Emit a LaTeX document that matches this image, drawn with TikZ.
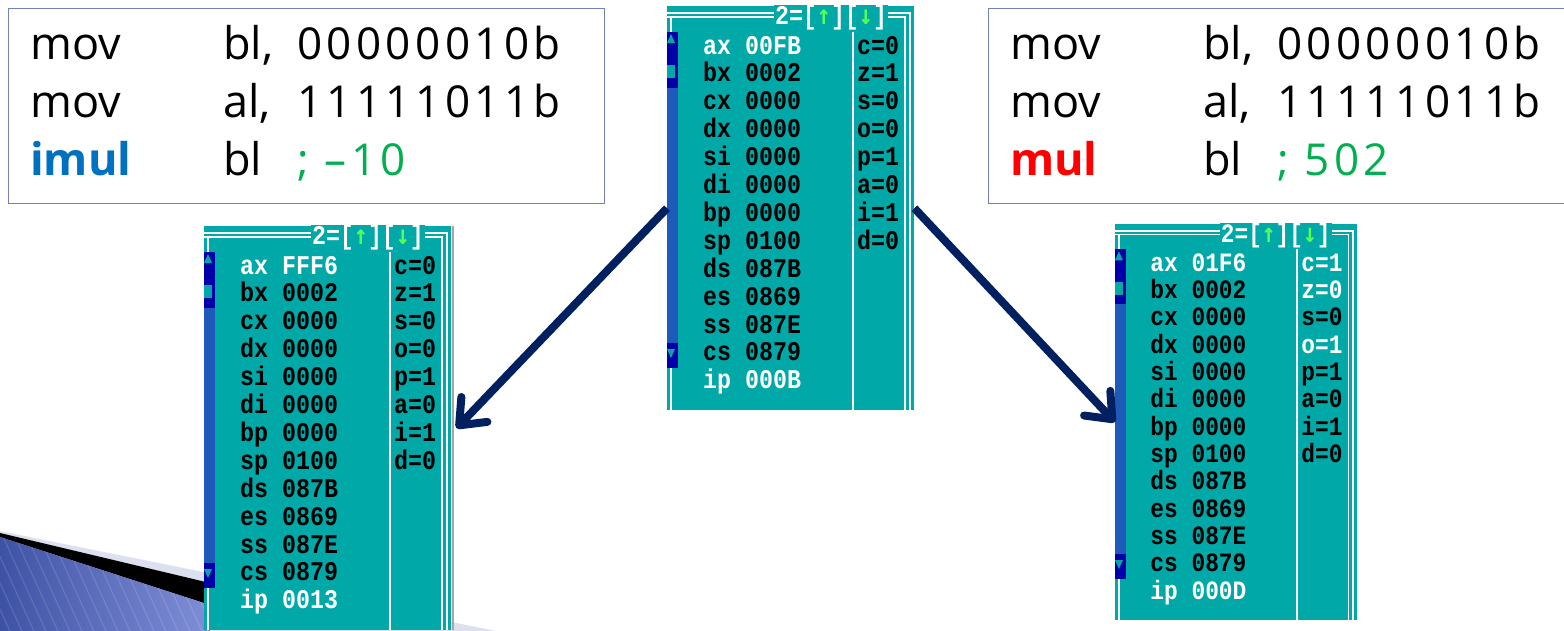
\documentclass[tikz,border=0pt]{standalone}
\usepackage{graphicx}
\usepackage{fontspec}
\setmainfont{Open Sans}
\newfontfamily\codefont{Open Sans}
\newfontfamily\digfont[LetterSpace=10]{Open Sans}
\newfontfamily\dosfont{Liberation Mono}
\newfontfamily\arrfont{DejaVu Sans Mono}
\usetikzlibrary{arrows.meta}

\definecolor{dosteal}{RGB}{0,168,168}
\definecolor{dosblue}{RGB}{0,0,168}
\definecolor{scrollmid}{RGB}{30,90,185}
\definecolor{dosgreen}{RGB}{85,255,85}
\definecolor{arrowblue}{RGB}{0,32,96}
\definecolor{boxedge}{RGB}{112,128,192}
\definecolor{cmtgreen}{RGB}{0,176,80}
\definecolor{imulblue}{RGB}{0,112,192}
\definecolor{mulred}{RGB}{255,0,0}
\definecolor{decogray}{RGB}{221,224,238}
\definecolor{decoblueL}{RGB}{62,82,165}
\definecolor{decoblueR}{RGB}{128,142,215}

\newcommand\tallt[1]{\scalebox{1}[1.16]{#1}}

\tikzset{
  codebox/.style={draw=boxedge, line width=1.3pt, anchor=north west, inner sep=0pt, fill=white},
  codetxt/.style={anchor=base west, inner sep=0pt, font=\codefont\fontsize{45}{50}\selectfont},
  codebold/.style={anchor=base west, inner sep=0pt, font=\codefont\bfseries\fontsize{45}{50}\selectfont},
  digtxt/.style={anchor=base west, inner sep=0pt, font=\digfont\fontsize{44}{50}\selectfont},
  panelbg/.style={fill=dosteal, draw=none, anchor=north west, minimum width=247pt, minimum height=404pt, inner sep=0pt},
  dosline/.style={white, line width=1.4pt},
  regtxt/.style={anchor=base west, inner sep=0pt, font=\dosfont\bfseries\fontsize{23.3}{24}\selectfont},
  conn/.style={draw=arrowblue, line width=8pt, -{Straight Barb[length=22pt,width=36pt,round]}},
}

% #1 name, #2 x, #3 y, #4 scale, #5 ax value, #6 ip value, #7 flags
\newcommand\dospanel[7]{%
\begin{scope}[shift={(#2,#3)}, scale=#4, transform shape]
  \node[panelbg] (#1) at (0,0) {};
  \draw[dosline] (0,7) -- (243,7) -- (243,404);
  \draw[dosline] (0,11) -- (238,11) -- (238,404);
  \draw[dosline] (4,11) -- (4,404);
  \draw[white, line width=2.4pt] (186,26) -- (186,404);
  \fill[dosblue] (0,26) rectangle (11,362);
  \fill[scrollmid] (0,82) rectangle (11,337);
  \fill[dosteal] (0,37) -- (4,28) -- (8,37) -- cycle;
  \fill[dosteal] (0,59) rectangle (8,72);
  \fill[dosteal] (0,343) -- (8,343) -- (4,352) -- cycle;
  \node[fill=dosteal, inner xsep=1pt, inner ysep=0pt, text=white,
        font=\dosfont\bfseries\fontsize{23.3}{24}\selectfont] (#1-t) at (164,12)
        {\tallt{2=[\textcolor{dosgreen}{\arrfont\bfseries ↑}][\textcolor{dosgreen}{\arrfont\bfseries ↓}]}};
  \foreach \rg/\vl/\cl [count=\i from 0] in {ax/#5/white,bx/0002/black,cx/0000/black,dx/0000/black,si/0000/black,di/0000/black,bp/0000/black,sp/0100/black,ds/087B/black,es/0869/black,ss/087E/black,cs/0879/black,ip/#6/white}
    \node[regtxt, text=\cl] (#1-r\i) at (36,{48+27.9*\i}) {\tallt{\rg\ \vl}};
  \foreach \fl/\cl [count=\i from 0] in {#7}
    \node[regtxt, text=\cl] (#1-f\i) at (190,{48+27.9*\i}) {\tallt{\fl}};
\end{scope}}

\begin{document}
\begin{tikzpicture}[x=1pt,y=-1pt]
\useasboundingbox (0,0) rectangle (1564,630);

% bottom-left decoration
\begin{scope}
  \clip (0,0) rectangle (1564,630);
  \fill[decogray] (0,531) -- (620,656) -- (0,656) -- cycle;
  \fill[black] (0,533) -- (210,583) -- (210,605) -- (0,537) -- cycle;
  \shade[left color=decoblueL, right color=decoblueR] (0,537) -- (210,605) -- (210,640) -- (0,640) -- cycle;
  \begin{scope}
    \clip (0,537) -- (210,605) -- (210,640) -- (0,640) -- cycle;
    \foreach \k in {-60,-48,...,210}
      \draw[white, opacity=0.13, line width=1.2pt] (\k,530) -- (\k+50,640);
  \end{scope}
\end{scope}

% code boxes
\node[codebox, minimum width=596pt, minimum height=195pt] (lb) at (8,8) {};
\node[codetxt] (lb-m1) at (30,59) {mov};
\node[codetxt] (lb-o1) at (223,59) {bl,};
\node[digtxt] (lb-d1) at (297,59) {00000010b};
\node[codetxt] (lb-m2) at (30,117) {mov};
\node[codetxt] (lb-o2) at (223,117) {al,};
\node[digtxt] (lb-d2) at (297,117) {11111011b};
\node[codebold, text=imulblue] (lb-m3) at (30,175) {imul};
\node[codetxt] (lb-o3) at (223,175) {bl};
\node[digtxt, text=cmtgreen] (lb-c3) at (297,175) {; –10};

\node[codebox, minimum width=600pt, minimum height=195pt] (rb) at (988,8) {};
\node[codetxt] (rb-m1) at (1010,59) {mov};
\node[codetxt] (rb-o1) at (1203,59) {bl,};
\node[digtxt] (rb-d1) at (1277,59) {00000010b};
\node[codetxt] (rb-m2) at (1010,117) {mov};
\node[codetxt] (rb-o2) at (1203,117) {al,};
\node[digtxt] (rb-d2) at (1277,117) {11111011b};
\node[codebold, text=mulred] (rb-m3) at (1010,175) {mul};
\node[codetxt] (rb-o3) at (1203,175) {bl};
\node[digtxt, text=cmtgreen] (rb-c3) at (1277,175) {; 502};

% debugger panels
\dospanel{cp}{667}{6}{1}{00FB}{000B}{c=0/black,z=1/black,s=0/black,o=0/black,p=1/black,a=0/black,i=1/black,d=0/black}
\dospanel{lp}{204}{226}{1}{FFF6}{0013}{c=0/black,z=1/black,s=0/black,o=0/black,p=1/black,a=0/black,i=1/black,d=0/black}
\draw[black!35, line width=2pt] ([xshift=2pt]lp.north east) -- ([xshift=2pt]lp.south east);
\dospanel{rp}{1115}{224}{0.98}{01F6}{000D}{c=1/white,z=0/white,s=0/black,o=1/white,p=1/black,a=0/black,i=1/black,d=0/black}

% arrows
\draw[conn] (cp.west) -- ([xshift=5pt]lp.east);
\draw[conn] (cp.east) -- (rp.west);
\end{tikzpicture}
\end{document}
